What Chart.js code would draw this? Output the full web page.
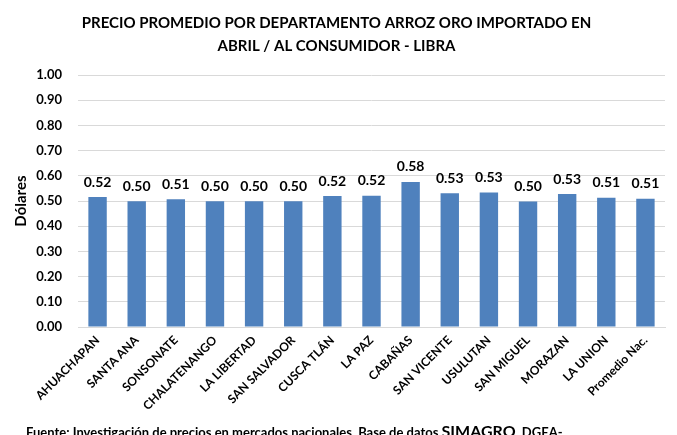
<!DOCTYPE html>
<html><head><meta charset="utf-8">
<script src="https://cdn.jsdelivr.net/npm/chart.js@4/dist/chart.umd.min.js"></script>
<style>
html,body{margin:0;padding:0;background:#fff;overflow:hidden}
#wrap{position:relative;width:677px;height:435px}
#foot{position:absolute;left:26px;top:421px;font:bold 13px Lato, sans-serif;color:#000;white-space:nowrap}
#foot span{font-size:16px}
</style></head>
<body><div id="wrap"><canvas id="c" width="677" height="435"></canvas>
<div id="foot">Fuente: Investigación de precios en mercados nacionales. Base de datos <span>SIMAGRO</span>, DGEA-</div></div>
<script>
const categories = ["AHUACHAPAN","SANTA ANA","SONSONATE","CHALATENANGO","LA LIBERTAD","SAN SALVADOR","CUSCA TLÁN","LA PAZ","CABAÑAS","SAN VICENTE","USULUTAN","SAN MIGUEL","MORAZAN","LA UNION","Promedio Nac."];
const prices = [0.516,0.499,0.507,0.499,0.499,0.499,0.52,0.521,0.576,0.531,0.534,0.498,0.528,0.513,0.509];
const titleLines = ["PRECIO PROMEDIO POR DEPARTAMENTO ARROZ ORO IMPORTADO EN","ABRIL / AL CONSUMIDOR - LIBRA"];
const yTitle = "Dólares";

const labelPlugin = {
  id:'valLabels',
  afterDatasetsDraw(chart){
    const ctx = chart.ctx;
    const meta = chart.getDatasetMeta(0);
    ctx.save();
    ctx.font = 'bold 14px Lato, sans-serif';
    ctx.fillStyle = '#000';
    ctx.textAlign = 'center';
    ctx.textBaseline = 'bottom';
    meta.data.forEach((bar,i)=>{
      ctx.fillText(prices[i].toFixed(2), bar.x, bar.y - 8);
    });
    ctx.restore();
  }
};

new Chart(document.getElementById('c'),{
  type:'bar',
  data:{labels:categories,datasets:[{data:prices,backgroundColor:'#4F81BD',borderWidth:0,barPercentage:0.47,categoryPercentage:1}]},
  options:{
    responsive:false,animation:false,
    layout:{padding:{left:8,right:12,top:4,bottom:16}},
    plugins:{
      legend:{display:false},tooltip:{enabled:false},
      title:{display:true,text:titleLines,color:'#000',font:{family:'Lato',size:15,weight:'bold',lineHeight:1.5},padding:{top:8,bottom:18}}
    },
    scales:{
      x:{grid:{display:false,drawTicks:false},border:{display:true,color:'#D9D9D9'},
         ticks:{color:'#000',font:{family:'Lato',size:12,weight:'bold'},maxRotation:45,minRotation:45,autoSkip:false,padding:6}},
      y:{min:0,max:1,grid:{color:'#D9D9D9',drawTicks:false},border:{display:false},
         ticks:{stepSize:0.1,color:'#000',font:{family:'Lato',size:13,weight:'bold'},padding:16,callback:v=>v.toFixed(2)},
         title:{display:true,text:yTitle,color:'#000',font:{family:'Lato',size:15,weight:'bold'},padding:{bottom:0}},
         afterFit(s){ s.width = 70; }}
    }
  },
  plugins:[labelPlugin]
});
</script></body></html>
